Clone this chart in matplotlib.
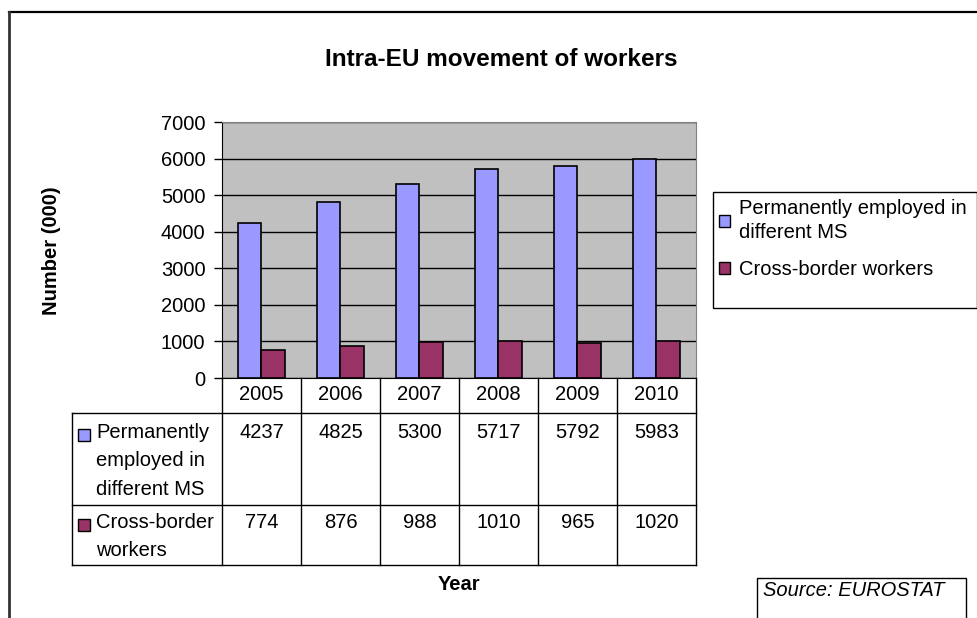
import matplotlib
matplotlib.use("Agg")
import matplotlib.pyplot as plt
from matplotlib.patches import Rectangle
from matplotlib.lines import Line2D
from matplotlib.transforms import blended_transform_factory
import numpy as np

plt.rcParams['font.family'] = ['Liberation Sans', 'DejaVu Sans']

years = ['2005', '2006', '2007', '2008', '2009', '2010']
permanent = [4237, 4825, 5300, 5717, 5792, 5983]
cross_border = [774, 876, 988, 1010, 965, 1020]
series_names = ['Permanently employed in\ndifferent MS', 'Cross-border workers']
row_names = ['Permanently\nemployed in\ndifferent MS', 'Cross-border\nworkers']

BLUE = '#9999FF'
MAROON = '#993366'
W, H = 978, 618
FS = 14.5


def fx(x):
    return x / W


def fy(y):
    return 1 - y / H


fig = plt.figure(figsize=(W / 100, H / 100), dpi=100)

# outer frame (only top and left edges are visible)
fig.add_artist(Line2D([fx(9), fx(978)], [fy(12), fy(12)], color='black', lw=1.6))
fig.add_artist(Line2D([fx(9), fx(9)], [fy(12), fy(618)], color='#333333', lw=2))

fig.text(fx(501), fy(59), 'Intra-EU movement of workers', ha='center', va='center',
         fontsize=17.5, fontweight='bold')

ax = fig.add_axes([fx(222), fy(378), (696 - 222) / W, (378 - 122) / H])
ax.set_facecolor('#C0C0C0')
x = np.arange(len(years))
bw = 0.3
ax.bar(x - bw / 2, permanent, bw, color=BLUE, edgecolor='black', lw=1.2, zorder=3)
ax.bar(x + bw / 2, cross_border, bw, color=MAROON, edgecolor='black', lw=1.2, zorder=3)
ax.set_xlim(-0.5, len(years) - 0.5)
ax.set_ylim(0, 7000)
ax.set_yticks(range(0, 7001, 1000))
ax.set_xticks([])
ax.grid(axis='y', color='black', lw=1, zorder=1)
ax.set_axisbelow(True)
ax.tick_params(axis='y', length=6, width=1, pad=6, labelsize=FS)
for side in ['top', 'right']:
    ax.spines[side].set_color('#808080')
ax.spines['left'].set_color('black')
ax.spines['bottom'].set_color('black')

fig.text(fx(52), fy(251), 'Number (000)', rotation=90, ha='center', va='center',
         fontsize=FS, fontweight='bold')

# data table under the chart
trans = blended_transform_factory(ax.transData, fig.transFigure)
for i in range(len(years) + 1):
    fig.add_artist(Line2D([i - 0.5, i - 0.5], [fy(378), fy(565)], color='black', lw=1,
                          transform=trans))
fig.add_artist(Line2D([fx(72), fx(72)], [fy(413), fy(565)], color='black', lw=1))
for yy in [413, 505, 565]:
    fig.add_artist(Line2D([fx(72), fx(696)], [fy(yy), fy(yy)], color='black', lw=1))

for i, yr in enumerate(years):
    fig.text(i, fy(395), yr, transform=trans, ha='center', va='center', fontsize=FS)
    fig.text(i, fy(432), str(permanent[i]), transform=trans, ha='center', va='center',
             fontsize=FS)
    fig.text(i, fy(522), str(cross_border[i]), transform=trans, ha='center', va='center',
             fontsize=FS)

for color, name, ymid in [(BLUE, row_names[0], 433), (MAROON, row_names[1], 523)]:
    fig.add_artist(Rectangle((fx(78), fy(ymid + 8)), 12 / W, 12 / H, facecolor=color,
                             edgecolor='black', lw=1))
    fig.text(fx(96), fy(ymid - 10), name, ha='left', va='top', fontsize=FS,
             linespacing=1.62)

fig.text(fx(459), fy(585), 'Year', ha='center', va='center', fontsize=FS,
         fontweight='bold')

# legend
fig.add_artist(Rectangle((fx(713), fy(308)), (977 - 713) / W, (308 - 192) / H,
                         facecolor='white', edgecolor='black', lw=1))
handles = [Rectangle((0, 0), 1, 1, facecolor=c, edgecolor='black', lw=1)
           for c in [BLUE, MAROON]]
leg = fig.legend(handles, series_names, loc='upper left',
                 bbox_to_anchor=(fx(717), fy(197)), frameon=False, fontsize=FS,
                 handlelength=0.55, handleheight=0.55, handletextpad=0.45, borderpad=0.1,
                 borderaxespad=0, labelspacing=0.9)
for t in leg.get_texts():
    t.set_linespacing(1.35)

# source note
fig.add_artist(Rectangle((fx(757), fy(630)), (966 - 757) / W, (630 - 578) / H,
                         facecolor='white', edgecolor='black', lw=1, clip_on=False))
fig.text(fx(763), fy(591), 'Source: EUROSTAT', ha='left', va='center', fontsize=FS,
         style='italic')

fig.savefig('out.png', dpi=100)
